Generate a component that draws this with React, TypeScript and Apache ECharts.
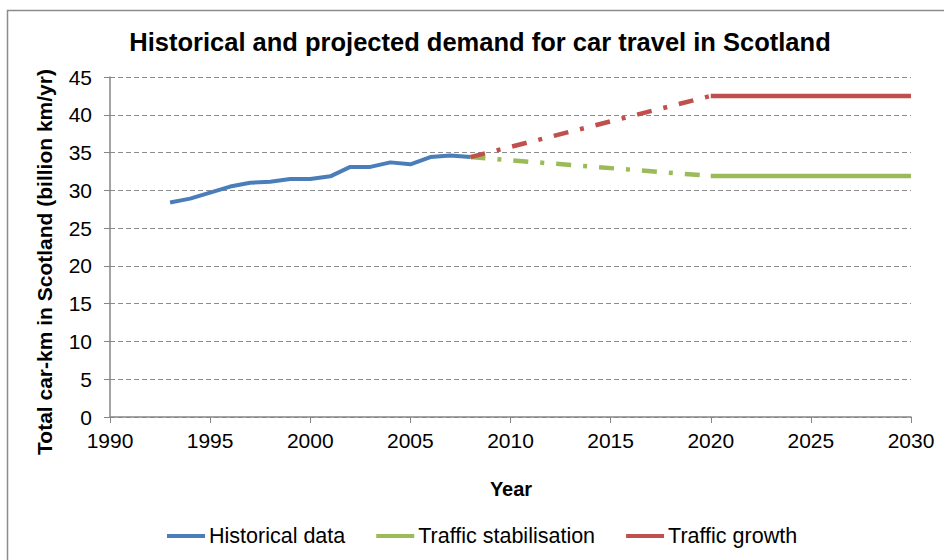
import React, { useEffect, useRef } from "react";
import * as echarts from "echarts";

const historicalYears = [1993, 1994, 1995, 1996, 1997, 1998, 1999, 2000, 2001, 2002, 2003, 2004, 2005, 2006, 2007, 2008];
const historicalValues = [28.4, 28.9, 29.7, 30.5, 31.0, 31.15, 31.5, 31.5, 31.85, 33.1, 33.1, 33.7, 33.45, 34.4, 34.6, 34.4];
const projectionYears = [2008, 2020, 2030];
const stabilisationValues = [34.4, 31.9, 31.9];
const growthValues = [34.4, 42.5, 42.5];
const seriesNames = ["Historical data", "Traffic stabilisation", "Traffic growth"];
const titleText = "Historical and projected demand for car travel in Scotland";
const yAxisTitle = "Total car-km in Scotland (billion km/yr)";
const xAxisTitle = "Year";

const FONT = "'Liberation Sans', Arial, sans-serif";
const BLUE = "#4a7ebb";
const GREEN = "#9bbb59";
const RED = "#c0504d";
const DASHDOT = [15, 12, 4, 12];

const pairs = (xs: number[], ys: number[]) => xs.map((x, i) => [x, ys[i]]);

export default function App() {
  const ref = useRef<HTMLDivElement>(null);
  useEffect(() => {
    if (!ref.current) return;
    const chart = echarts.init(ref.current, null, { renderer: "svg" });
    const hist = pairs(historicalYears, historicalValues);
    const stab = pairs(projectionYears, stabilisationValues);
    const grow = pairs(projectionYears, growthValues);
    const base = { type: "line", symbol: "none", showSymbol: false, z: 3 };
    chart.setOption({
      animation: false,
      backgroundColor: "#ffffff",
      textStyle: { fontFamily: FONT },
      grid: { left: 110, right: 33, top: 77, bottom: 143, containLabel: false },
      graphic: [
        {
          type: "rect",
          shape: { x: 7.5, y: 10.5, width: 1000, height: 1000 },
          style: { fill: "none", stroke: "#8c8c8c", lineWidth: 1.5 },
          silent: true,
        },
        {
          type: "text",
          x: 480,
          y: 42,
          style: {
            text: titleText,
            font: `bold 25.5px ${FONT}`,
            fill: "#000",
            textAlign: "center",
            textVerticalAlign: "middle",
          },
        },
        {
          type: "text",
          x: 44,
          y: 262,
          rotation: Math.PI / 2,
          style: {
            text: yAxisTitle,
            font: `bold 21px ${FONT}`,
            fill: "#000",
            textAlign: "center",
            textVerticalAlign: "middle",
          },
        },
        {
          type: "text",
          x: 511,
          y: 489,
          style: {
            text: xAxisTitle,
            font: `bold 20px ${FONT}`,
            fill: "#000",
            textAlign: "center",
            textVerticalAlign: "middle",
          },
        },
      ],
      legend: {
        bottom: 8,
        left: 162,
        itemWidth: 38,
        itemHeight: 10,
        itemGap: 31,
        data: seriesNames.map((name, i) => ({
          name,
          icon: "path://M0,0 L38,0 L38,4 L0,4 Z",
          itemStyle: { color: [BLUE, GREEN, RED][i] },
        })),
        textStyle: { fontSize: 21.5, color: "#000", fontFamily: FONT, padding: [0, 0, 0, -1] },
      },
      xAxis: {
        type: "value",
        min: 1990,
        max: 2030,
        interval: 5,
        axisLine: { onZero: false, lineStyle: { color: "#868686", width: 1.5 } },
        axisTick: { show: true, length: 6, lineStyle: { color: "#868686" } },
        axisLabel: { fontSize: 21, color: "#000", margin: 13, fontFamily: FONT, formatter: (v: number) => String(v) },
        splitLine: { show: false },
      },
      yAxis: {
        type: "value",
        min: 0,
        max: 45,
        interval: 5,
        axisLine: { show: true, lineStyle: { color: "#868686", width: 1.5 } },
        axisTick: { show: true, length: 6, lineStyle: { color: "#868686" } },
        axisLabel: { fontSize: 21, color: "#000", margin: 18, fontFamily: FONT },
        splitLine: { show: true, lineStyle: { color: "#8c8c8c", type: [5, 3], width: 1 } },
      },
      series: [
        { ...base, name: seriesNames[0], data: hist, lineStyle: { color: BLUE, width: 4 }, itemStyle: { color: BLUE } },
        { ...base, name: seriesNames[1], data: stab.slice(1), lineStyle: { color: GREEN, width: 4.5 }, itemStyle: { color: GREEN } },
        { ...base, name: seriesNames[1], data: stab.slice(0, 2), lineStyle: { color: GREEN, width: 4.5, type: DASHDOT, cap: "butt" }, itemStyle: { color: GREEN } },
        { ...base, name: seriesNames[2], data: grow.slice(1), lineStyle: { color: RED, width: 4.5 }, itemStyle: { color: RED } },
        { ...base, name: seriesNames[2], data: grow.slice(0, 2), lineStyle: { color: RED, width: 4.5, type: DASHDOT, cap: "butt" }, itemStyle: { color: RED } },
      ],
    });
    return () => chart.dispose();
  }, []);
  return <div ref={ref} style={{ position: "fixed", left: 0, top: 0, width: 944, height: 560 }} />;
}
